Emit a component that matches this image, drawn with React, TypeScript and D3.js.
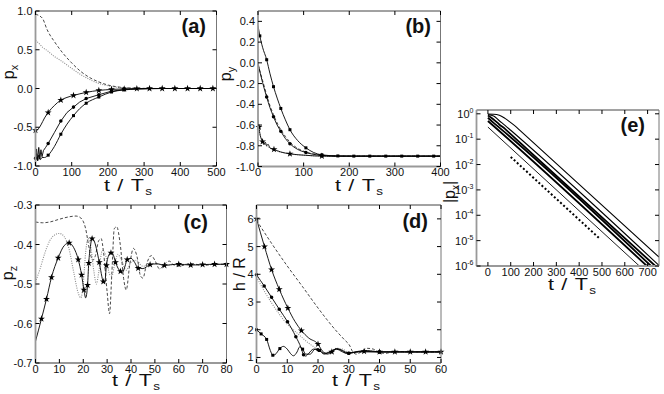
import React from "react";
import * as d3 from "d3";

type Pt = [number, number];

const FONT = "'Liberation Sans', Arial, Helvetica, sans-serif";

// ---------------- Panel (a): p_x ----------------
const A_X_TICKS = [0, 100, 200, 300, 400, 500];
const A_Y_TICKS = [-1, -0.5, 0, 0.5, 1];
const A_SOLID1: Pt[] = [[0,-0.54],[8,-0.52],[15,-0.47],[25,-0.38],[35,-0.31],[52,-0.22],[70,-0.15],[87,-0.115],[105,-0.09],[140,-0.05],[175,-0.025],[210,-0.012],[245,-0.005],[280,-0.002],[315,0],[350,0],[385,0],[420,0],[455,0],[490,0],[500,0]];
const A_SOLID1_MARK = [0,35,70,105,140,175,210,245,280,315,350,385,420,455,490];
const A_SOLID2: Pt[] = [[0,-0.9],[3,-0.78],[6,-0.93],[9,-0.76],[12,-0.91],[15,-0.79],[18,-0.88],[22,-0.8],[28,-0.76],[35,-0.71],[52,-0.57],[70,-0.42],[87,-0.31],[105,-0.24],[122,-0.175],[140,-0.13],[175,-0.08],[210,-0.035],[245,-0.014],[280,-0.005],[315,-0.002],[350,0],[500,0]];
const A_SOLID2_MARK = [0,35,70,105,140,175,210,245];
const A_SOLID3: Pt[] = [[0,-0.95],[3,-0.84],[6,-0.93],[9,-0.86],[13,-0.92],[18,-0.89],[25,-0.89],[35,-0.86],[52,-0.75],[70,-0.59],[87,-0.46],[105,-0.35],[122,-0.26],[140,-0.19],[175,-0.11],[210,-0.045],[245,-0.018],[280,-0.007],[315,-0.002],[350,0],[500,0]];
const A_SOLID3_MARK = [35,70,105,140,175,210,245];
const A_DASHED: Pt[] = [[0,0.96],[10,0.94],[20,0.9],[32,0.76],[40,0.69],[50,0.62],[75,0.46],[100,0.33],[125,0.22],[150,0.14],[175,0.085],[200,0.045],[225,0.022],[250,0.01],[300,0.002],[350,0],[500,0]];
const A_DOTTED: Pt[] = [[0,0.62],[10,0.58],[20,0.53],[32,0.49],[50,0.42],[70,0.36],[100,0.26],[125,0.18],[150,0.115],[175,0.065],[200,0.035],[225,0.016],[250,0.006],[300,0],[500,0]];

// ---------------- Panel (b): p_y ----------------
const B_X_TICKS = [0, 100, 200, 300, 400];
const B_Y_TICKS = [-1, -0.8, -0.6, -0.4, -0.2, 0, 0.2, 0.4];
const B_SOLID1: Pt[] = [[0,0.36],[4,0.26],[10,0.15],[19,0.03],[26,-0.1],[34,-0.23],[42,-0.34],[50,-0.44],[60,-0.55],[70,-0.645],[87,-0.75],[105,-0.82],[122,-0.865],[140,-0.888],[175,-0.898],[210,-0.9],[245,-0.9],[280,-0.9],[315,-0.9],[350,-0.9],[385,-0.9],[400,-0.9]];
const B_SOLID1_MARK = [4,19,34,50,70,105,140,175,210,245,280,315,350,385];
const B_SOLID2: Pt[] = [[0,0.0],[5,-0.1],[10,-0.19],[19,-0.33],[26,-0.43],[34,-0.52],[42,-0.6],[50,-0.66],[60,-0.73],[70,-0.78],[87,-0.835],[105,-0.865],[140,-0.893],[175,-0.9],[400,-0.9]];
const B_SOLID2_MARK = [19,34,50,70,105,140];
const B_SOLID3: Pt[] = [[0,-0.55],[2,-0.62],[5,-0.7],[10,-0.76],[13,-0.79],[16,-0.765],[19,-0.8],[22,-0.785],[26,-0.82],[35,-0.835],[50,-0.86],[70,-0.878],[105,-0.892],[140,-0.9],[400,-0.9]];
const B_SOLID3_MARK = [2,10,35,70,140];
const B_DASHED: Pt[] = [[0,-0.02],[10,-0.17],[19,-0.31],[26,-0.41],[34,-0.5],[42,-0.58],[50,-0.645],[60,-0.71],[70,-0.765],[87,-0.825],[105,-0.86],[140,-0.89],[175,-0.9],[400,-0.9]];
const B_DOTTED: Pt[] = [[0,-0.6],[3,-0.67],[6,-0.72],[10,-0.755],[16,-0.79],[22,-0.81],[30,-0.83],[45,-0.855],[70,-0.878],[105,-0.892],[140,-0.9],[400,-0.9]];

// ---------------- Panel (c): p_z ----------------
const C_X_TICKS = [0, 10, 20, 30, 40, 50, 60, 70, 80];
const C_Y_TICKS = [-0.7, -0.6, -0.5, -0.4, -0.3];
const C_STAR: Pt[] = [[0,-0.645],[2.5,-0.588],[4.6,-0.538],[6.7,-0.483],[9.5,-0.434],[12,-0.403],[14.1,-0.396],[16,-0.408],[17.9,-0.438],[19.3,-0.477],[20.3,-0.515],[21,-0.535],[21.8,-0.503],[22.3,-0.447],[23,-0.405],[23.7,-0.385],[24.5,-0.39],[25.5,-0.41],[26.7,-0.445],[28.4,-0.494],[29,-0.497],[29.7,-0.453],[30.5,-0.43],[31.6,-0.421],[32.5,-0.425],[33.5,-0.445],[35.6,-0.468],[36.5,-0.47],[37.5,-0.455],[38.4,-0.438],[40,-0.435],[41.5,-0.445],[43,-0.46],[45,-0.461],[48,-0.451],[51,-0.449],[54,-0.453],[57,-0.451],[60,-0.45],[65,-0.452],[70,-0.451],[75,-0.45],[80,-0.45]];
const C_STAR_MARK = [2.5,4.6,6.7,9.5,14.1,17.9,19.3,20.3,21.8,22.3,23.7,26.7,28.4,29.7,31.6,33.5,35.6,38.4,43,48,54,60,65,70,75,80];
const C_DOTTED: Pt[] = [[0,-0.495],[2,-0.46],[4,-0.42],[6,-0.39],[8,-0.376],[10,-0.372],[12,-0.38],[14,-0.41],[16,-0.47],[18,-0.525],[19,-0.535],[20,-0.5],[21,-0.42],[22,-0.385],[23,-0.4],[24.5,-0.47],[25.5,-0.5],[26.5,-0.47],[28,-0.415],[29.5,-0.43],[31,-0.475],[32,-0.48],[33,-0.455],[34.5,-0.425],[36,-0.44],[38,-0.465],[40,-0.445],[42,-0.44],[45,-0.455],[50,-0.448],[55,-0.452],[60,-0.45],[70,-0.451],[80,-0.45]];
const C_DASHED: Pt[] = [[0,-0.343],[3,-0.345],[6,-0.343],[10,-0.336],[14,-0.33],[17,-0.328],[19,-0.333],[21,-0.36],[22.5,-0.41],[24,-0.44],[25,-0.43],[26.5,-0.39],[27.5,-0.385],[28.5,-0.42],[30,-0.52],[31,-0.575],[32,-0.47],[33,-0.36],[34,-0.355],[35.5,-0.4],[37,-0.49],[38,-0.515],[39.5,-0.45],[41,-0.41],[42.5,-0.43],[44,-0.48],[45,-0.485],[46.5,-0.45],[48.5,-0.428],[50,-0.44],[52,-0.462],[54,-0.45],[56,-0.442],[58,-0.452],[60,-0.455],[65,-0.448],[70,-0.453],[75,-0.45],[80,-0.45]];

// ---------------- Panel (d): h / R ----------------
const D_X_TICKS = [0, 10, 20, 30, 40, 50, 60];
const D_Y_TICKS = [1, 2, 3, 4, 5, 6];
const D_STAR: Pt[] = [[0,6],[2.6,5.0],[4.9,4.17],[7.4,3.46],[10.2,2.78],[12.5,2.3],[14.6,1.97],[17,1.7],[20,1.48],[21,1.3],[22,1.17],[23,1.12],[24.5,1.2],[26,1.3],[27.5,1.27],[29,1.15],[31,1.18],[35,1.22],[40,1.2],[45,1.2],[50,1.2],[55,1.2],[60,1.2]];
const D_STAR_MARK = [0,2.6,4.9,7.4,10.2,14.6,20,24.5,35,40,45,50,55,60];
const D_CIRCLE: Pt[] = [[0,3.98],[2.5,3.58],[4.9,3.17],[7.4,2.74],[10.1,2.29],[12.8,1.75],[14.5,1.35],[15.3,1.1],[16,1.05],[17,1.15],[18.5,1.3],[20,1.28],[22,1.15],[24,1.18],[26,1.32],[28,1.25],[30,1.15],[33,1.22],[36,1.25],[40,1.2],[60,1.2]];
const D_CIRCLE_MARK = [0,2.5,4.9,7.4,10.1,12.8,15.3,20,30,40];
const D_SQUARE: Pt[] = [[0,2],[1.5,1.85],[3.3,1.65],[4.5,1.25],[5.3,1.08],[6,1.1],[7.6,1.32],[8.7,1.4],[10,1.3],[11,1.15],[12,1.06],[13.2,1.2],[14,1.38],[15,1.3],[16,1.12],[17.5,1.12],[19,1.3],[20.5,1.25],[22,1.12],[24,1.22],[26,1.3],[28,1.2],[30,1.15],[33,1.2],[40,1.2],[60,1.2]];
const D_SQUARE_MARK = [0,1.5,3.3,5.3,7.6,15,20.5,30,40];
const D_DASHED: Pt[] = [[0,5.95],[5,5.1],[10,4.3],[15,3.55],[19.5,2.86],[22.8,2.38],[26,1.95],[28.5,1.65],[30.4,1.41],[31.2,1.22],[32.5,1.12],[34,1.2],[36,1.33],[38,1.3],[40,1.17],[42,1.15],[45,1.22],[50,1.2],[60,1.2]];
const D_DOTTED: Pt[] = [[0,3.9],[2.5,3.4],[5,2.95],[7.5,2.55],[10,2.2],[12.5,1.95],[15,1.7],[17.5,1.47],[20,1.3],[22,1.18],[24,1.2],[26,1.33],[28,1.3],[30,1.18],[33,1.2],[36,1.25],[40,1.2],[60,1.2]];

// ---------------- Panel (e): |p_x| (log) ----------------
const E_X_TICKS = [0, 100, 200, 300, 400, 500, 600, 700];
const E_Y_EXP = [0, -1, -2, -3, -4, -5, -6];
const E_LINE1: Pt[] = [[0,0.97],[25,0.96],[50,0.88],[75,0.66],[100,0.45],[125,0.3],[150,0.186],[750,2.24e-6]];
const E_LINE2: Pt[] = [[0,0.92],[25,0.82],[50,0.53],[75,0.35],[100,0.224],[750,1.05e-6]];
const E_LINE3: Pt[] = [[0,0.85],[25,0.6],[50,0.38],[75,0.254],[100,0.158],[734,1e-6]];
const E_LINE4: Pt[] = [[0,0.7],[25,0.44],[50,0.285],[715,1e-6]];
const E_LINE5: Pt[] = [[0,0.52],[25,0.33],[697,1e-6]];
const E_LINE6: Pt[] = [[0,0.3],[664,1e-6]];
const E_DOTS: Pt[] = [[100,0.02],[490,1.2e-5]];

type Kind = "solid" | "dashed" | "dotted" | "dots";
type MarkerKind = "circle" | "square" | "star";
interface Series { data: Pt[]; kind: Kind; width?: number; marker?: MarkerKind; markT?: number[]; curve?: any; }

interface Box { l: number; r: number; t: number; b: number; }

interface PanelProps {
  id: string;
  box: Box;
  xDomain: [number, number];
  yDomain: [number, number];
  log?: boolean;
  xTicks: number[];
  yTicks: number[];
  yLabel: (v: number) => React.ReactNode;
  series: Series[];
  tag: string;
  tagPos: [number, number];
  xTitleX: number;
  xTitleY: number;
  yTitle: React.ReactNode;
  yTitlePos: [number, number];
}

const SYM: Record<MarkerKind, any> = { circle: d3.symbolCircle, square: d3.symbolSquare, star: d3.symbolStar };
const SYM_SIZE: Record<MarkerKind, number> = { circle: 10, square: 9, star: 15 };

function styleOf(s: Series) {
  switch (s.kind) {
    case "dashed": return { stroke: "#333", strokeWidth: s.width ?? 0.9, strokeDasharray: "3 2" };
    case "dotted": return { stroke: "#8c8c8c", strokeWidth: s.width ?? 1.1, strokeDasharray: "1 1.3" };
    case "dots": return { stroke: "#000", strokeWidth: s.width ?? 2, strokeDasharray: "2 2.2" };
    default: return { stroke: "#000", strokeWidth: s.width ?? 0.9 };
  }
}

function Panel(p: PanelProps) {
  const { box } = p;
  const x = d3.scaleLinear().domain(p.xDomain).range([box.l, box.r]);
  const y: any = p.log
    ? d3.scaleLog().domain(p.yDomain).range([box.b, box.t])
    : d3.scaleLinear().domain(p.yDomain).range([box.b, box.t]);
  const tk = 4;
  return (
    <g fontFamily={FONT}>
      <defs>
        <clipPath id={`clip-${p.id}`}>
          <rect x={box.l} y={box.t} width={box.r - box.l} height={box.b - box.t} />
        </clipPath>
      </defs>
      <g clipPath={`url(#clip-${p.id})`}>
        {p.series.map((s, i) => {
          const line = d3.line<Pt>().x(d => x(d[0])).y(d => y(d[1])).curve(s.curve ?? d3.curveMonotoneX);
          return <path key={i} d={line(s.data) ?? ""} fill="none" {...styleOf(s)} />;
        })}
      </g>
      {p.series.map((s, i) =>
        s.marker && s.markT ? (
          <g key={`m${i}`}>
            {s.markT.map((t, j) => {
              const pt = s.data.find(d => Math.abs(d[0] - t) < 1e-9);
              if (!pt) return null;
              const sym = d3.symbol().type(SYM[s.marker!]).size(SYM_SIZE[s.marker!])();
              return <path key={j} d={sym ?? ""} transform={`translate(${x(pt[0])},${y(pt[1])})`} fill="#000" />;
            })}
          </g>
        ) : null
      )}
      {/* frame */}
      <line x1={box.l} x2={box.r} y1={box.t} y2={box.t} stroke="#444" strokeWidth={1} />
      <line x1={box.r} x2={box.r} y1={box.t} y2={box.b} stroke="#777" strokeWidth={1} />
      <line x1={box.l} x2={box.r} y1={box.b} y2={box.b} stroke="#999" strokeWidth={1.8} />
      <line x1={box.l} x2={box.l} y1={box.t} y2={box.b} stroke="#999" strokeWidth={1.8} />
      {/* ticks */}
      {p.xTicks.map(v => (
        <g key={`xt${v}`}>
          <line x1={x(v)} x2={x(v)} y1={box.b} y2={box.b - tk} stroke="#000" strokeWidth={1} />
          <line x1={x(v)} x2={x(v)} y1={box.t} y2={box.t + tk} stroke="#000" strokeWidth={1} />
          <text x={x(v)} y={box.b + 9.5} fontSize={11} textAnchor="middle" fill="#111">{String(v)}</text>
        </g>
      ))}
      {p.yTicks.map(v => (
        <g key={`yt${v}`}>
          <line x1={box.l} x2={box.l + tk} y1={y(v)} y2={y(v)} stroke="#000" strokeWidth={1} />
          <line x1={box.r} x2={box.r - tk} y1={y(v)} y2={y(v)} stroke="#000" strokeWidth={1} />
          <text x={box.l - 3} y={y(v) + 4} fontSize={11} textAnchor="end" fill="#111">{p.yLabel(v)}</text>
        </g>
      ))}
      {/* panel tag */}
      <text x={p.tagPos[0]} y={p.tagPos[1]} fontSize={20} fontWeight="bold" textAnchor="end" fill="#111">{p.tag}</text>
      {/* x title */}
      <g transform={`translate(${p.xTitleX},${p.xTitleY}) scale(1.35,1)`}>
        <text x={0} y={0} fontSize={16} textAnchor="middle" fill="#111">
          <tspan>t</tspan>
          <tspan dx={5.5}>/</tspan>
          <tspan dx={5.5}>T</tspan>
          <tspan fontSize={10} dx={1} dy={4}>s</tspan>
        </text>
      </g>
      {/* y title */}
      <g transform={`translate(${p.yTitlePos[0]},${p.yTitlePos[1]}) rotate(-90)`}>
        <text x={0} y={0} fontSize={16} textAnchor="middle" fill="#111">{p.yTitle}</text>
      </g>
    </g>
  );
}

const fmt1 = (v: number) => v.toFixed(1);
const fmt0 = (v: number) => String(v);

export default function App() {
  return (
    <svg width={664} height={394} style={{ position: "absolute", left: 0, top: 0, background: "#fff" }}>
      <rect x={0} y={0} width={664} height={394} fill="#fff" />
      <Panel
        id="a"
        box={{ l: 35.5, r: 216.5, t: 11, b: 166 }}
        xDomain={[0, 500]}
        yDomain={[-1, 1]}
        xTicks={A_X_TICKS}
        yTicks={A_Y_TICKS}
        yLabel={fmt1}
        series={[
          { data: A_DOTTED, kind: "dotted" },
          { data: A_DASHED, kind: "dashed" },
          { data: A_SOLID1, kind: "solid", marker: "star", markT: A_SOLID1_MARK },
          { data: A_SOLID2, kind: "solid", marker: "circle", markT: A_SOLID2_MARK, curve: d3.curveLinear },
          { data: A_SOLID3, kind: "solid", marker: "square", markT: A_SOLID3_MARK },
        ]}
        tag="(a)"
        tagPos={[206, 33]}
        xTitleX={128}
        xTitleY={191}
        yTitle={<><tspan>p</tspan><tspan fontSize={11} dy={4}>x</tspan></>}
        yTitlePos={[14, 72]}
      />
      <Panel
        id="b"
        box={{ l: 258, r: 440.5, t: 11, b: 166.5 }}
        xDomain={[0, 400]}
        yDomain={[-1, 0.5]}
        xTicks={B_X_TICKS}
        yTicks={B_Y_TICKS}
        yLabel={fmt1}
        series={[
          { data: B_DOTTED, kind: "dotted" },
          { data: B_DASHED, kind: "dashed" },
          { data: B_SOLID1, kind: "solid", marker: "square", markT: B_SOLID1_MARK },
          { data: B_SOLID2, kind: "solid", marker: "circle", markT: B_SOLID2_MARK },
          { data: B_SOLID3, kind: "solid", marker: "star", markT: B_SOLID3_MARK },
        ]}
        tag="(b)"
        tagPos={[431, 33]}
        xTitleX={359}
        xTitleY={191}
        yTitle={<><tspan>p</tspan><tspan fontSize={11} dy={4}>y</tspan></>}
        yTitlePos={[231, 74]}
      />
      <Panel
        id="c"
        box={{ l: 35.5, r: 226.5, t: 205, b: 363 }}
        xDomain={[0, 80]}
        yDomain={[-0.7, -0.3]}
        xTicks={C_X_TICKS}
        yTicks={C_Y_TICKS}
        yLabel={fmt1}
        series={[
          { data: C_DOTTED, kind: "dotted" },
          { data: C_DASHED, kind: "dashed" },
          { data: C_STAR, kind: "solid", marker: "star", markT: C_STAR_MARK },
        ]}
        tag="(c)"
        tagPos={[208, 229]}
        xTitleX={136}
        xTitleY={386}
        yTitle={<><tspan>p</tspan><tspan fontSize={11} dy={4}>z</tspan></>}
        yTitlePos={[13, 273]}
      />
      <Panel
        id="d"
        box={{ l: 256.5, r: 441, t: 205, b: 363 }}
        xDomain={[0, 60]}
        yDomain={[0.8, 6.5]}
        xTicks={D_X_TICKS}
        yTicks={D_Y_TICKS}
        yLabel={fmt0}
        series={[
          { data: D_DOTTED, kind: "dotted" },
          { data: D_DASHED, kind: "dashed" },
          { data: D_STAR, kind: "solid", marker: "star", markT: D_STAR_MARK },
          { data: D_CIRCLE, kind: "solid", marker: "circle", markT: D_CIRCLE_MARK },
          { data: D_SQUARE, kind: "solid", marker: "square", markT: D_SQUARE_MARK },
        ]}
        tag="(d)"
        tagPos={[428, 228]}
        xTitleX={356}
        xTitleY={386}
        yTitle={<tspan>h / R</tspan>}
        yTitlePos={[245, 274]}
      />
      <Panel
        id="e"
        box={{ l: 476.5, r: 659, t: 110, b: 266 }}
        xDomain={[-50, 750]}
        yDomain={[1e-6, Math.pow(10, 0.15)]}
        log
        xTicks={E_X_TICKS}
        yTicks={E_Y_EXP.map(e => Math.pow(10, e))}
        yLabel={(v: number) => (
          <>
            <tspan>10</tspan>
            <tspan fontSize={7} dy={-5}>{String(Math.round(Math.log10(v)))}</tspan>
          </>
        )}
        series={[
          { data: E_LINE1, kind: "solid", width: 1.1 },
          { data: E_LINE2, kind: "solid", width: 1.1 },
          { data: E_LINE3, kind: "solid", width: 1.8 },
          { data: E_LINE4, kind: "solid", width: 1.8 },
          { data: E_LINE5, kind: "solid", width: 1.8 },
          { data: E_LINE6, kind: "solid", width: 0.9 },
          { data: E_DOTS, kind: "dots", width: 2, curve: d3.curveLinear },
        ]}
        tag="(e)"
        tagPos={[645, 132]}
        xTitleX={572}
        xTitleY={290}
        yTitle={<><tspan>|p</tspan><tspan fontSize={10} dy={4}>x</tspan><tspan dy={-4}>|</tspan></>}
        yTitlePos={[455, 192]}
      />
    </svg>
  );
}
